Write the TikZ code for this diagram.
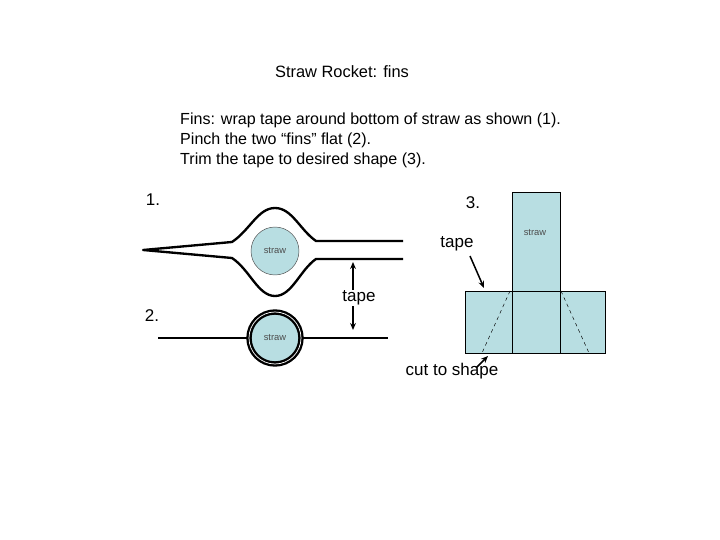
\documentclass[tikz,border=0pt]{standalone}
\usepackage{fontspec}
\setmainfont{Liberation Sans}
\usetikzlibrary{arrows.meta}
\definecolor{strawblue}{RGB}{184,222,226}
\begin{document}
\begin{tikzpicture}[x=0.03cm,y=-0.03cm,
    label/.style={inner sep=0pt,font=\fontsize{14.5}{17}\selectfont},
    small/.style={inner sep=0pt,font=\fontsize{8}{10}\selectfont,text=black!70},
    tape/.style={line width=2pt},
    pointer/.style={line width=1.3pt,-{Stealth[length=6pt,width=5pt]}},
    cut/.style={dashed,thin}]
    \useasboundingbox (0,0) rectangle (720,540);
    % Titre
    \node[label,font=\fontsize{14}{17}\selectfont] (title) at (342,72) {Straw Rocket: fins};
    \node[label,anchor=north west,align=left,font=\fontsize{13.7}{17}\selectfont] (txt) at (180,113)
        {Fins: wrap tape around bottom of straw as shown (1).\\Pinch the two ``fins'' flat (2).\\Trim the tape to desired shape (3).};
    \node[label] (n1) at (153,200) {1.};
    \node[label] (n2) at (152,316) {2.};
    \node[label] (n3) at (473,203) {3.};
    % Figure 1
    \draw[tape,line join=round] (403,241) -- (316,241) .. controls (300,230) and (292,208) .. (275,208)
        .. controls (258,208) and (250,230) .. (232,242) -- (143,250) -- (232,258)
        .. controls (250,270) and (258,296) .. (275,296) .. controls (292,296) and (300,270) .. (316,259) -- (403,259);
    \filldraw[fill=strawblue,draw=black!70] (275,251) circle (24);
    \node[small] (s1) at (275,251) {straw};
    % Figure 2
    \draw[line width=1.2pt] (158,338) -- (250,338);
    \draw[line width=2.5pt] (300,338) -- (388,338);
    \filldraw[fill=strawblue,draw=black,line width=2pt,double=white,double distance=0.6pt] (275,338) circle (26);
    \node[small] (s2) at (275,338) {straw};
    \coordinate (t1) at (353,262);
    \coordinate (t2) at (353,330);
    \draw[pointer,{Stealth[length=6pt,width=5pt]}-{Stealth[length=6pt,width=5pt]}] (t1) -- (t2);
    \node[label,fill=white,inner sep=1pt] (tp2) at (359,298) {tape};
    % Figure 3
    \filldraw[fill=strawblue] (512,192) rectangle (560,291);
    \filldraw[fill=strawblue] (465,291) rectangle (605,353);
    \draw (512,291) -- (512,353) (560,291) -- (560,353);
    \draw[cut] (510,291) -- (482,353);
    \draw[cut] (561,291) -- (589,353);
    \node[small] (s3) at (535,233) {straw};
    \node[label] (tp3) at (457,244) {tape};
    \coordinate (a3) at (484,288);
    \draw[pointer] (470,256) -- (a3);
    \node[label] (cs) at (452,371) {cut to shape};
    \coordinate (a4) at (488,356);
    \draw[pointer] (476,368) -- (a4);
\end{tikzpicture}
\end{document}
